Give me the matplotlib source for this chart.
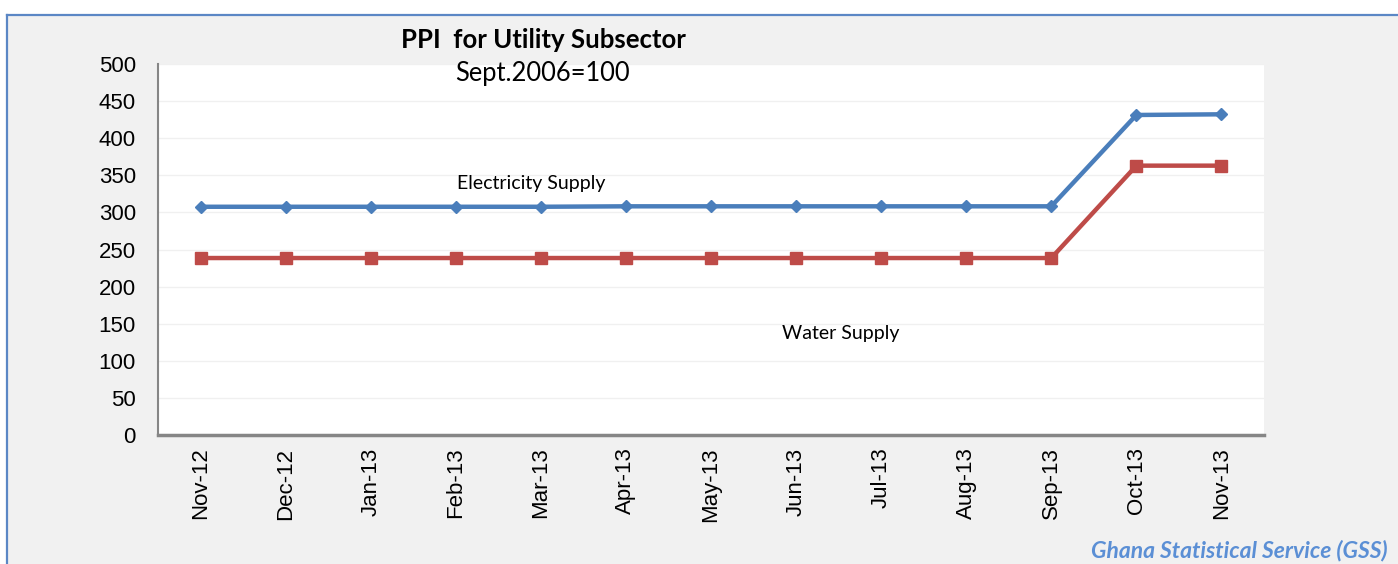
import numpy as np
import matplotlib.pyplot as plt
from matplotlib.lines import Line2D
from matplotlib.patches import Rectangle

# datos
meses = ["Nov-12", "Dec-12", "Jan-13", "Feb-13", "Mar-13", "Apr-13", "May-13",
         "Jun-13", "Jul-13", "Aug-13", "Sep-13", "Oct-13", "Nov-13"]
electricidad = [307.6, 307.6, 307.6, 307.6, 307.6, 308.2, 308.2,
                308.2, 308.2, 308.2, 308.2, 431.3, 432.2]
agua = [238.5, 238.5, 238.5, 238.5, 238.5, 238.5, 238.5,
        238.5, 238.5, 238.5, 238.5, 363.0, 363.0]

W, H = 1398, 564
fig = plt.figure(figsize=(W / 100, H / 100), dpi=100)
fig.patch.set_facecolor("white")

# fondo gris con borde azul (arriba e izquierda)
fig.patches.append(Rectangle((7 / W, 0), 1, 1 - 15 / H, transform=fig.transFigure,
                             facecolor="#f1f1f1", edgecolor="none", zorder=-5))
fig.lines.append(Line2D([7 / W, 1], [1 - 15 / H, 1 - 15 / H], transform=fig.transFigure,
                        color="#5b87c5", lw=1.6, zorder=-4))
fig.lines.append(Line2D([7 / W, 7 / W], [0, 1 - 15 / H], transform=fig.transFigure,
                        color="#5b87c5", lw=1.6, zorder=-4))

ax = fig.add_axes([158 / W, 1 - 435 / H, (1264 - 158) / W, (435 - 64) / H])
ax.set_zorder(2)
ax.set_facecolor("white")

x = np.arange(len(meses))
ax.plot(x, electricidad, color="#4a7ebb", lw=3.2, marker="D", ms=6.5, zorder=3)
ax.plot(x, agua, color="#be4b48", lw=3.2, marker="s", ms=8, zorder=3)

ax.set_xlim(-0.5, len(meses) - 0.5)
ax.set_ylim(0, 500)
ax.set_yticks(range(0, 501, 50))
ax.yaxis.grid(True, color="#f0f0f0", lw=1)
ax.set_axisbelow(True)
ax.set_xticks(x)
ax.set_xticklabels(meses, rotation=90, fontsize=16, family="Liberation Sans")
for lab in ax.get_yticklabels():
    lab.set_family("Liberation Sans")
    lab.set_fontsize(16)
ax.tick_params(axis="y", length=0, pad=16)
ax.tick_params(axis="x", length=0, pad=9)

for s in ["top", "right"]:
    ax.spines[s].set_visible(False)
ax.spines["left"].set_color("#868686")
ax.spines["left"].set_linewidth(1.5)
ax.spines["bottom"].set_color("#868686")
ax.spines["bottom"].set_linewidth(2.5)

fig.text(543 / W, 1 - 40 / H, "PPI  for Utility Subsector", ha="center", va="center",
         fontsize=18.5, fontweight="bold", family="Lato", zorder=5)
fig.text(542 / W, 1 - 74 / H, "Sept.2006=100", ha="center", va="center",
         fontsize=18.4, family="Lato", zorder=5)
fig.text(531 / W, 1 - 184 / H, "Electricity Supply", ha="center", va="center",
         fontsize=14, family="Lato", zorder=5)
fig.text(841 / W, 1 - 333 / H, "Water Supply", ha="center", va="center",
         fontsize=14, family="Lato", zorder=5)
fig.text(1388 / W, 1 - 551 / H, "Ghana Statistical Service (GSS)", ha="right", va="center",
         fontsize=16.5, fontweight="bold", style="italic", color="#5b8fd5", family="Lato")

fig.savefig("out.png", dpi=100)
